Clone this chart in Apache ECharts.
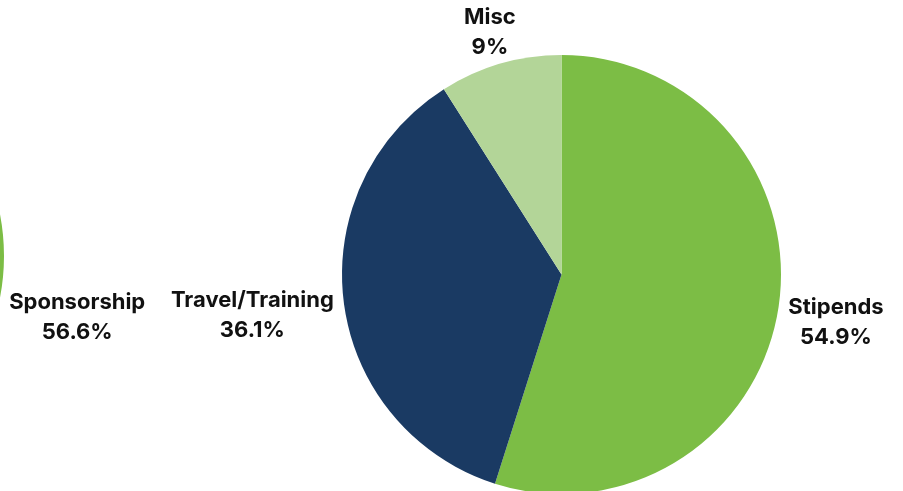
<!DOCTYPE html>
<html>
<head>
<meta charset="utf-8">
<script src="https://cdn.jsdelivr.net/npm/echarts@6/dist/echarts.min.js"></script>
<style>
html,body{margin:0;padding:0;background:#fff;}
#chart{width:903px;height:491px;}
</style>
</head>
<body>
<div id="chart"></div>
<script>
// Left (mostly off-canvas) pie
var leftCategories = ['Sponsorship', 'Other'];
var leftValues = [56.6, 43.4];
// Right pie
var rightCategories = ['Stipends', 'Travel/Training', 'Misc'];
var rightValues = [54.9, 36.1, 9];

var leftColors = ['#7cbd45', '#1a3a63'];
var rightColors = ['#7cbd45', '#1a3a63', '#b3d598'];

function buildData(cats, vals, cols) {
  return cats.map(function (c, i) {
    return { name: c, value: vals[i], itemStyle: { color: cols[i] } };
  });
}

// datalabels-like placement: box pushed outward from the slice's outer edge
var OFFSET = 6, PAD = 4, SHIFT = 8;
function placeLabel(p) {
  var pts = p.labelLinePoints;
  if (!pts || pts.length < 2) return {};
  var vx = pts[1][0] - pts[0][0], vy = pts[1][1] - pts[0][1];
  var len = Math.sqrt(vx * vx + vy * vy) || 1;
  vx /= len; vy /= len;
  var w = p.labelRect.width + 2 * PAD, h = p.labelRect.height + 2 * PAD;
  var vs = 1 / Math.max(Math.abs(vx), Math.abs(vy));
  var cx = pts[0][0] + (w / 2) * vx * vs + OFFSET * vx;
  var cy = pts[0][1] + (h / 2) * vy * vs + OFFSET * vy + SHIFT;
  return { x: cx, y: cy, align: 'center', verticalAlign: 'middle' };
}

var labelCfg = {
  show: true,
  position: 'outside',
  formatter: function (p) { return p.name + '\n' + p.value + '%'; },
  fontFamily: 'Inter, "Open Sans", sans-serif',
  fontWeight: 'bold',
  fontSize: 22,
  lineHeight: 30,
  color: '#111111',
  align: 'center'
};
var labelLineCfg = { show: true, length: 10, length2: 0, lineStyle: { opacity: 0, width: 0 } };

var chart = echarts.init(document.getElementById('chart'), null, { renderer: 'canvas' });
chart.setOption({
  animation: false,
  backgroundColor: '#ffffff',
  series: [
    {
      type: 'pie',
      center: [-216, 256],
      radius: [0, 220],
      startAngle: 90,
      clockwise: true,
      avoidLabelOverlap: false,
      silent: true,
      data: buildData(leftCategories, leftValues, leftColors),
      label: labelCfg,
      labelLine: labelLineCfg,
      labelLayout: placeLabel
    },
    {
      type: 'pie',
      center: [561.5, 274.5],
      radius: [0, 219.5],
      startAngle: 90,
      clockwise: true,
      avoidLabelOverlap: false,
      silent: true,
      data: buildData(rightCategories, rightValues, rightColors),
      label: labelCfg,
      labelLine: labelLineCfg,
      labelLayout: placeLabel
    }
  ]
});
</script>
</body>
</html>
